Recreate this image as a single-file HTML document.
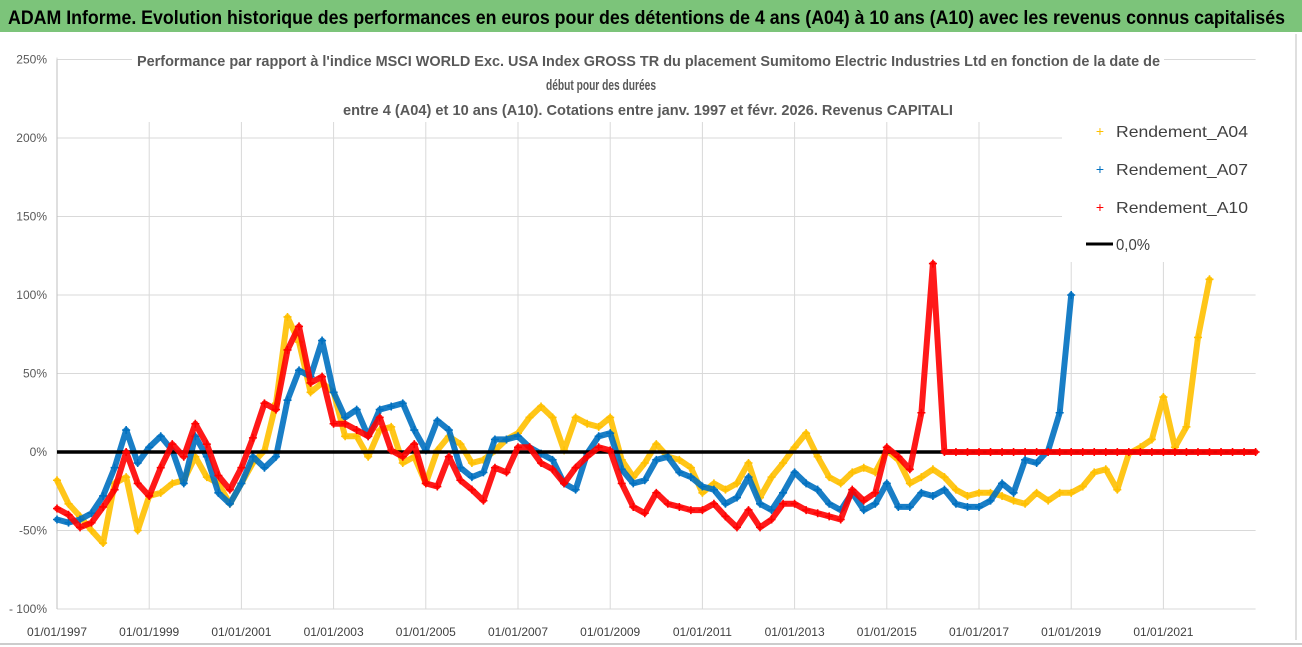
<!DOCTYPE html>
<html><head><meta charset="utf-8">
<style>
html,body{margin:0;padding:0;background:#fff;}
svg{display:block;font-family:"Liberation Sans",sans-serif;}
</style></head>
<body>
<svg id="chart" width="1302" height="647" viewBox="0 0 1302 647" xmlns="http://www.w3.org/2000/svg">
  <rect x="0" y="0" width="1302" height="647" fill="#fff"/>
  <rect x="0" y="0" width="1302" height="32" fill="#7cc47a"/>
  <text x="8" y="24" font-size="19" font-weight="bold" fill="#000" textLength="1277" lengthAdjust="spacingAndGlyphs">ADAM Informe. Evolution historique des performances en euros pour des détentions de 4 ans (A04) à 10 ans (A10) avec les revenus connus capitalisés</text>
  <line x1="1296" y1="34" x2="1296" y2="640" stroke="#bfbfbf" stroke-width="1"/>
  <line x1="0" y1="644" x2="1302" y2="644" stroke="#999" stroke-width="1"/>
  <g id="grid"></g>
  <g id="series"></g>
  <rect x="132" y="44" width="1032" height="78" fill="#fff"/>
  <text x="137" y="66" font-size="15" font-weight="bold" fill="#595959" textLength="1023" lengthAdjust="spacingAndGlyphs">Performance par rapport à l'indice MSCI WORLD Exc. USA Index GROSS TR  du placement Sumitomo Electric Industries Ltd en fonction de la date de</text>
  <text x="546" y="90" font-size="15" font-weight="bold" fill="#595959" textLength="110" lengthAdjust="spacingAndGlyphs">début pour des durées</text>
  <text x="343" y="115" font-size="15" font-weight="bold" fill="#595959" textLength="610" lengthAdjust="spacingAndGlyphs">entre 4 (A04) et 10 ans (A10). Cotations entre janv. 1997 et févr. 2026. Revenus CAPITALI</text>
  <g id="legend">
    <rect x="1062" y="112" width="194" height="150" fill="#fff"/>
    <g>
      <text x="1100" y="136" font-size="14" fill="#ffc000" text-anchor="middle">+</text>
      <text x="1116" y="137" font-size="16" fill="#404040" textLength="132" lengthAdjust="spacingAndGlyphs">Rendement_A04</text>
    </g>
    <g>
      <text x="1100" y="174" font-size="14" fill="#0070c0" text-anchor="middle">+</text>
      <text x="1116" y="175" font-size="16" fill="#404040" textLength="132" lengthAdjust="spacingAndGlyphs">Rendement_A07</text>
    </g>
    <g>
      <text x="1100" y="212" font-size="14" fill="#ff0000" text-anchor="middle">+</text>
      <text x="1116" y="213" font-size="16" fill="#404040" textLength="132" lengthAdjust="spacingAndGlyphs">Rendement_A10</text>
    </g>
    <g>
      <line x1="1086" y1="244" x2="1113" y2="244" stroke="#000" stroke-width="3"/>
      <text x="1116" y="250" font-size="16" fill="#404040" textLength="34" lengthAdjust="spacingAndGlyphs">0,0%</text>
    </g>
  </g>
</svg>
<script>
const xTickLabels = ["01/01/1997","01/01/1999","01/01/2001","01/01/2003","01/01/2005","01/01/2007","01/01/2009","01/01/2011","01/01/2013","01/01/2015","01/01/2017","01/01/2019","01/01/2021"];
const xTickYears = [1997,1999,2001,2003,2005,2007,2009,2011,2013,2015,2017,2019,2021];
const yTickValues = [250,200,150,100,50,0,-50,-100];
const yTickLabels = ["250%","200%","150%","100%","50%","0%","-50%","- 100%"];
const startYear = 1997;
const stepYear = 0.25;
const a04 = [-18,-33,-41,-50,-58,-20,-16,-50,-28,-26,-20,-18,-3,-16,-20,-33,-20,-7,1,31,86,70,38,44,38,10,10,-3,14,16,-7,-3,-20,1,10,5,-7,-5,1,8,12,22,29,22,1,22,18,16,22,-5,-16,-7,5,-3,-5,-10,-26,-20,-24,-20,-7,-29,-16,-7,3,12,-3,-16,-20,-13,-10,-13,1,-5,-20,-16,-11,-16,-24,-28,-26,-26,-28,-31,-33,-26,-31,-26,-26,-22,-13,-11,-24,-1,3,8,35,3,16,73,110,null,null,null,null];
const a07 = [-43,-45,-43,-39,-28,-10,14,-7,3,10,1,-20,10,-3,-26,-33,-20,-3,-10,-3,33,52,48,71,38,22,27,10,27,29,31,14,1,20,14,-10,-16,-13,8,8,10,3,-1,-5,-20,-24,-1,10,12,-11,-20,-18,-5,-3,-13,-16,-22,-24,-33,-29,-16,-33,-37,-26,-13,-20,-24,-33,-37,-26,-37,-33,-20,-35,-35,-26,-28,-24,-33,-35,-35,-31,-20,-26,-5,-7,1,25,100,null,null,null,null,null,null,null,null,null,null,null,null,null,null,null,null];
const a10 = [-36,-40,-48,-45,-35,-24,0,-20,-28,-10,5,-3,18,5,-15,-24,-10,9,31,27,65,80,44,48,18,18,14,10,22,1,-3,5,-20,-22,-3,-18,-24,-31,-10,-13,3,3,-7,-11,-20,-10,-3,3,1,-20,-35,-39,-26,-33,-35,-37,-37,-33,-41,-48,-37,-48,-43,-33,-33,-37,-39,-41,-43,-24,-31,-26,3,-3,-11,25,120,0,0,0,0,0,0,0,0,0,0,0,0,0,0,0,0,0,0,0,0,0,0,0,0,0,0,0,0];

const NS = "http://www.w3.org/2000/svg";
const X0 = 57, PXY = 46.1;
function xScale(yr){ return X0 + (yr - 1997) * PXY; }
function yScale(v){ return 452 - v * 78.5 / 50; }
function mk(tag, attrs, parent){ const e = document.createElementNS(NS, tag); for (const k in attrs) e.setAttribute(k, attrs[k]); parent.appendChild(e); return e; }

const grid = document.getElementById('grid');
const xEnd = xScale(2023.0);
yTickValues.forEach((v, i) => {
  const gl = mk('line', {x1: X0, x2: xEnd, y1: yScale(v), y2: yScale(v), stroke: '#d9d9d9', 'stroke-width': 1}, grid);
  
  
  const t = mk('text', {x: 47, y: yScale(v) + 4, 'font-size': 12, fill: '#595959', 'text-anchor': 'end'}, grid);
  t.textContent = yTickLabels[i];
  
  
});
xTickYears.forEach((yr, i) => {
  const gl = mk('line', {x1: xScale(yr), x2: xScale(yr), y1: yScale(250) - 2, y2: yScale(-100), stroke: '#d9d9d9', 'stroke-width': 1}, grid);
  
  
  const t = mk('text', {x: xScale(yr), y: 636, 'font-size': 12, fill: '#404040', 'text-anchor': 'middle'}, grid);
  t.textContent = xTickLabels[i];
  
  
});
const ax = mk('line', {x1: X0, x2: X0, y1: yScale(250), y2: yScale(-100), stroke: '#bfbfbf', 'stroke-width': 1}, grid);



const sg = document.getElementById('series');
function drawSeries(vals, color, name){
  const g = mk('g', {}, sg);
  
  
  let pts = [];
  const segs = [];
  vals.forEach((v, i) => {
    if (v === null) { if (pts.length) segs.push(pts); pts = []; return; }
    pts.push([xScale(startYear + i * stepYear), yScale(v)]);
  });
  if (pts.length) segs.push(pts);
  segs.forEach(s => {
    const pl = mk('polyline', {points: s.map(p => p[0].toFixed(1) + ',' + p[1].toFixed(1)).join(' '), fill: 'none', stroke: color, 'stroke-width': 6, 'stroke-linejoin': 'round', 'stroke-linecap': 'round', opacity: 0.9}, g);
    
    
  });
  vals.forEach((v, i) => {
    if (v === null) return;
    const x = xScale(startYear + i * stepYear), y = yScale(v);
    const m = mk('path', {d: `M${x-4},${y}H${x+4}M${x},${y-4}V${y+4}`, stroke: color, 'stroke-width': 1.6}, g);
    
    
  });
}
drawSeries(a04, '#ffc000', 'series-a04');
drawSeries(a07, '#0070c0', 'series-a07');
const zl = mk('line', {x1: X0, x2: xEnd, y1: yScale(0), y2: yScale(0), stroke: '#000', 'stroke-width': 3.5}, sg);


drawSeries(a10, '#ff0000', 'series-a10');
</script>
</body></html>
